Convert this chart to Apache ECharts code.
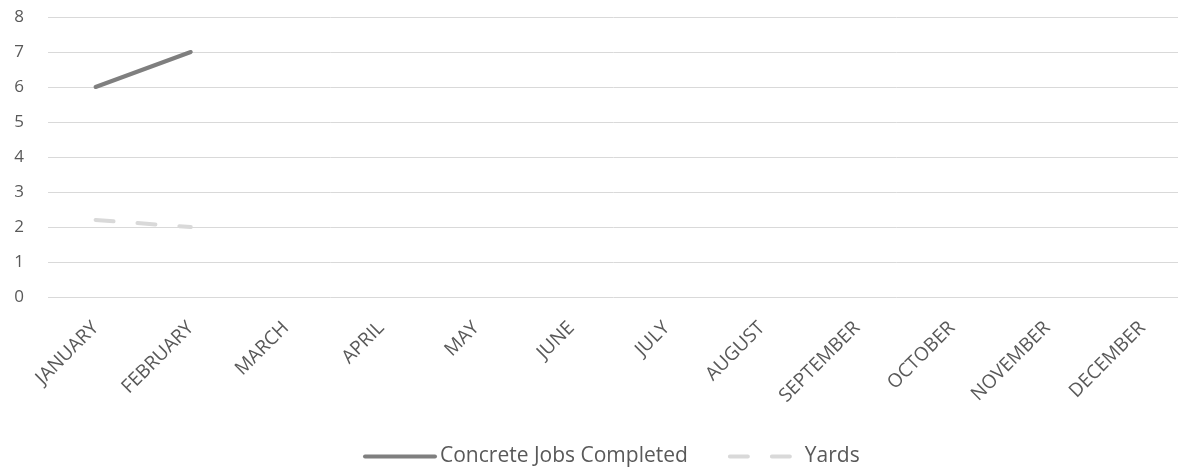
<!DOCTYPE html>
<html><head><meta charset="utf-8">
<script src="https://cdn.jsdelivr.net/npm/echarts@6/dist/echarts.min.js"></script>
<style>html,body{margin:0;padding:0;background:#fff}#c{width:1178px;height:467px}</style>
</head><body><div id="c"></div>
<script>
const categories = ['JANUARY','FEBRUARY','MARCH','APRIL','MAY','JUNE','JULY','AUGUST','SEPTEMBER','OCTOBER','NOVEMBER','DECEMBER'];
const concreteJobs = [6, 7, null, null, null, null, null, null, null, null, null, null];
const yards = [2.2, 2.0, null, null, null, null, null, null, null, null, null, null];
const seriesNames = ['Concrete Jobs Completed', 'Yards'];

const chart = echarts.init(document.getElementById('c'));
const font = 'Open Sans';
chart.setOption({
  animation: false,
  textStyle: { fontFamily: font },
  grid: { left: 48, width: 1142, top: 17, bottom: 170, outerBoundsMode: 'none', containLabel: false },
  legend: {
    bottom: -5, left: 358, itemWidth: 70, itemHeight: 14, itemGap: 40,
    textStyle: { fontFamily: font, fontSize: 21, color: '#595959' },
    lineStyle: { width: 4, cap: 'round' },
    itemStyle: { opacity: 0 },
    data: [seriesNames[0], seriesNames[1]]
  },
  xAxis: {
    type: 'category', data: categories, boundaryGap: true,
    axisLine: { show: false }, axisTick: { show: false },
    axisLabel: { rotate: 45, fontSize: 19, color: '#595959', margin: 28, interval: 0, fontFamily: font }
  },
  yAxis: {
    type: 'value', min: 0, max: 8, interval: 1,
    axisLine: { show: false }, axisTick: { show: false },
    axisLabel: { fontSize: 17, color: '#595959', margin: 24, fontFamily: font },
    splitLine: { lineStyle: { color: '#d9d9d9', width: 1 } }
  },
  series: [
    { name: seriesNames[0], type: 'line', data: concreteJobs, symbol: 'none', connectNulls: false,
      lineStyle: { color: '#7f7f7f', width: 4, cap: 'round' }, itemStyle: { color: '#7f7f7f' } },
    { name: seriesNames[1], type: 'line', data: yards, symbol: 'none',
      lineStyle: { color: '#d9d9d9', width: 4, type: [18, 24], cap: 'round' }, itemStyle: { color: '#d9d9d9' } }
  ]
});
</script></body></html>
